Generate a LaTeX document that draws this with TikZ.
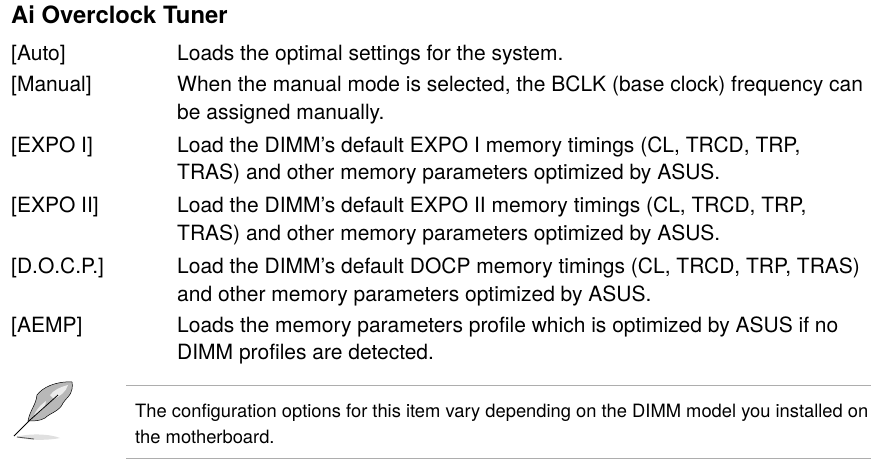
\documentclass[tikz,border=0pt]{standalone}
\usepackage{fontspec}
\setmainfont{TeX Gyre Heros}
\tikzset{
 x=1pt,y=-1pt,
 lbl/.style={anchor=base west,inner sep=0pt,font=\fontsize{21}{25}\selectfont},
 ttl/.style={anchor=base west,inner sep=0pt,font=\fontsize{23.8}{28}\selectfont\bfseries},
 note/.style={anchor=base west,inner sep=0pt,font=\fontsize{18.35}{22}\selectfont},
 rulel/.style={draw=black!32,line width=1.3pt}
}
\begin{document}
\begin{tikzpicture}
\useasboundingbox (0,0) rectangle (885,466);
\fill[white] (0,0) rectangle (885,466);
\node[ttl] (title) at (11,23.5) {Ai Overclock Tuner};
\node[lbl] (k1) at (11,60) {[Auto]};
\node[lbl] (d1) at (177,60) {Loads the optimal settings for the system.};
\node[lbl] (k2) at (11,91.5) {[Manual]};
\node[lbl] (d2a) at (177,91.5) {When the manual mode is selected, the BCLK (base clock) frequency can};
\node[lbl] (d2b) at (177,119.5) {be assigned manually.};
\node[lbl] (k3) at (11,152) {[EXPO I]};
\node[lbl] (d3a) at (177,152) {Load the DIMM’s default EXPO I memory timings (CL, TRCD, TRP,};
\node[lbl] (d3b) at (177,179.5) {TRAS) and other memory parameters optimized by ASUS.};
\node[lbl] (k4) at (11,212.5) {[EXPO II]};
\node[lbl] (d4a) at (177,212.5) {Load the DIMM’s default EXPO II memory timings (CL, TRCD, TRP,};
\node[lbl] (d4b) at (177,240) {TRAS) and other memory parameters optimized by ASUS.};
\node[lbl] (k5) at (11,273.5) {[D.O.C.P.]};
\node[lbl] (d5a) at (177,273.5) {Load the DIMM’s default DOCP memory timings (CL, TRCD, TRP, TRAS)};
\node[lbl] (d5b) at (177,301) {and other memory parameters optimized by ASUS.};
\node[lbl] (k6) at (11,332.5) {[AEMP]};
\node[lbl] (d6a) at (177,332.5) {Loads the memory parameters profile which is optimized by ASUS if no};
\node[lbl] (d6b) at (177,359.5) {DIMM profiles are detected.};
\draw[rulel] (126,385.7) -- (871,385.7);
\draw[rulel] (126,458.7) -- (871,458.7);
\node[note] (n1) at (135,417) {The configuration options for this item vary depending on the DIMM model you installed on};
\node[note] (n2) at (135,443) {the motherboard.};
% feather
\fill[black!12] (16,437) .. controls (30,433) and (50,434) .. (60,438) .. controls (45,441) and (25,440) .. (16,437) -- cycle;
\draw[black!70,line width=0.8pt] (17,437) -- (34,439);
\fill[black!28,draw=black,line width=0.5pt] (28,421) .. controls (30,410) and (36,405) .. (37,395) .. controls (42,388) and (55,381) .. (72,382) .. controls (74,385) and (71,386) .. (72,389) .. controls (71,396) and (66,398) .. (63,403) .. controls (60,411) and (50,413) .. (45,418) .. controls (40,421) and (34,421) .. (28,421) -- cycle;
\fill[black!8] (50,395) .. controls (54,390) and (60,387) .. (68,385) .. controls (66,392) and (60,396) .. (54,399) -- cycle;
\fill[black!8] (34,415) .. controls (38,407) and (42,404) .. (46,401) .. controls (46,407) and (42,412) .. (34,415) -- cycle;
\draw[black,line width=0.8pt] (14,436) -- (30,420) -- (58,395);
\end{tikzpicture}
\end{document}
